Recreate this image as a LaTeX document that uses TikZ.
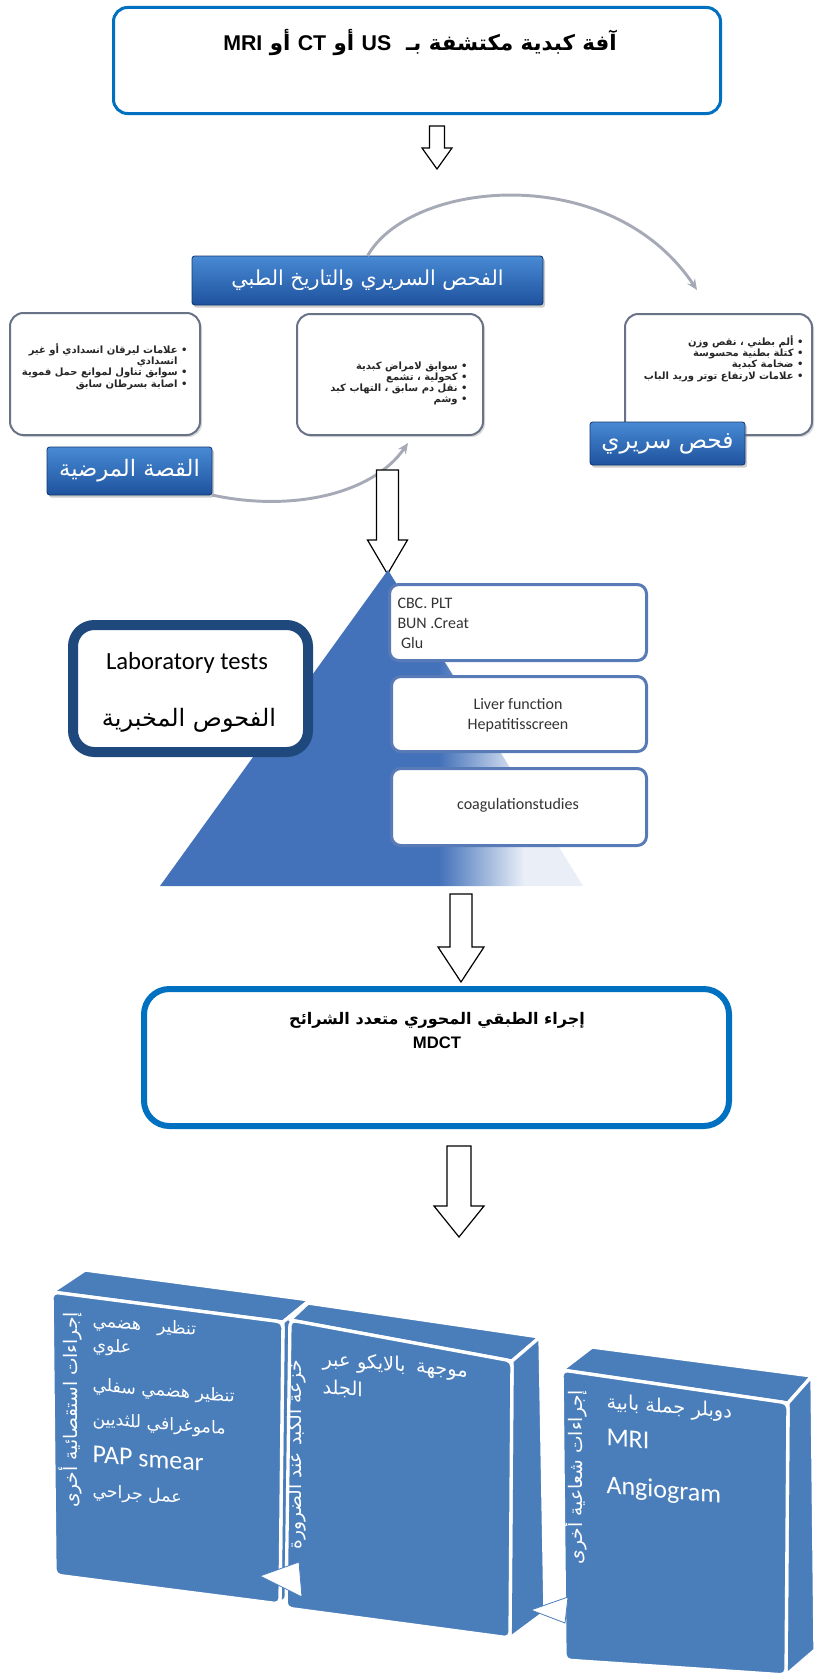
\documentclass[tikz,border=0pt]{standalone}
\usepackage{fontspec}
\setmainfont{Carlito}
\newfontfamily\arabicfont[Script=Arabic]{DejaVu Sans}
\newfontfamily\arialfont{Liberation Sans}
\TeXXeTstate=1
\usetikzlibrary{arrows.meta,shadows}

\definecolor{frameblue}{RGB}{0,112,192}
\definecolor{labnavy}{RGB}{31,73,125}
\definecolor{pyrblue}{RGB}{68,114,186}
\definecolor{cubeblue}{RGB}{74,126,187}
\definecolor{bannertop}{RGB}{72,138,212}
\definecolor{bannerbot}{RGB}{30,82,158}
\definecolor{arcgrey}{RGB}{165,170,182}
\definecolor{cardedge}{RGB}{105,115,135}
\definecolor{testedge}{RGB}{88,122,182}

\pgfdeclarehorizontalshading{pyramidfade}{100bp}{color(0bp)=(pyrblue); color(58bp)=(pyrblue); color(68bp)=(pyrblue!12); color(100bp)=(pyrblue!12)}

\tikzset{every picture/.style={line width=0.75pt}}
\tikzset{
  framebox/.style={draw=frameblue, fill=white, anchor=north west, inner sep=0pt, outer sep=0pt},
  titletext/.style={font=\arabicfont\bfseries\fontsize{16}{18}\selectfont, align=center},
  hollowarrow/.style={draw=black, line width=0.9pt, fill=white},
  card/.style={draw=cardedge, line width=1.5pt, rounded corners=10pt, fill=white, anchor=north west, inner sep=0pt, outer sep=0pt, drop shadow={opacity=0.3, shadow xshift=1.5pt, shadow yshift=-1.5pt}},
  banner/.style={draw=bannerbot!70!black, line width=0.6pt, top color=bannertop, bottom color=bannerbot, rounded corners=2pt, anchor=north west, inner sep=0pt, outer sep=0pt, text=white, drop shadow={opacity=0.4, shadow xshift=1.5pt, shadow yshift=-2pt}},
  bullets/.style={font=\arabicfont\bfseries\fontsize{7.5}{8.4}\selectfont, align=right, anchor=north east, inner sep=0pt, text=black!85},
  cyclearc/.style={draw=arcgrey, line width=2.2pt, -{Stealth[length=8pt,width=7pt]}},
  testbox/.style={draw=testedge, line width=2.25pt, rounded corners=7pt, fill=white, anchor=north west, inner sep=0pt, outer sep=0pt},
  testtext/.style={font=\fontsize{12}{15}\selectfont, text=black!80},
  cubeface/.style={draw=white, line width=2.5pt, fill=cubeblue, line join=round},
  cubetext/.style={text=white, align=left, anchor=north west, inner sep=0pt, yslant=-0.08, font=\arabicfont\fontsize{13}{16}\selectfont},
  sidetext/.style={text=white, font=\arabicfont\fontsize{14}{16}\selectfont, rotate=90, inner sep=0pt},
  flowtip/.style={draw=cubeblue, line width=0.6pt, fill=white},
}

\begin{document}
\begin{tikzpicture}[x=0.75pt,y=0.75pt,yscale=-1,xscale=1]
\useasboundingbox (0,0) rectangle (816,1677);

%Shape: Rounded Rect - lesion found
\node[framebox, line width=2.25pt, rounded corners=10.5pt, minimum width=607*0.75pt, minimum height=106*0.75pt] (lesion) at (113.5,7.5) {};
% Text Node
\node[titletext] (lesiontext) at (420,43) {\beginR آفة كبدية مكتشفة بـ\ \ {\arialfont US} أو {\arialfont CT} أو {\arialfont MRI}\endR};

%Shape: Down Arrow
\draw[hollowarrow] (429.5,126) -- (444.5,126) -- (444.5,148) -- (452,148) -- (437,169) -- (422,148) -- (429.5,148) -- cycle;

%Shape: Cards of the cycle
\node[card, minimum width=190*0.75pt, minimum height=122*0.75pt] (storycard) at (10,313) {};
\node[card, minimum width=186*0.75pt, minimum height=121*0.75pt] (pastcard) at (297,314) {};
\node[card, minimum width=187*0.75pt, minimum height=121*0.75pt] (examcard) at (625,314) {};

% Text Node
\node[bullets] (storylist) at (188,343) {\beginR• علامات ليرقان انسدادي أو غير\endR\\\beginR\phantom{• }انسدادي\endR\\\beginR• سوابق تناول لموانع حمل فموية\endR\\\beginR• اصابة بسرطان سابق\endR};
% Text Node
\node[bullets] (pastlist) at (468,361) {\beginR• سوابق لامراض كبدية\endR\\\beginR• كحولية ، تشمع\endR\\\beginR• نقل دم سابق ، التهاب كبد\endR\\\beginR• وشم\endR};
% Text Node
\node[bullets] (examlist) at (804,335) {\beginR• ألم بطني ، نقص وزن\endR\\\beginR• كتلة بطنية محسوسة\endR\\\beginR• ضخامة كبدية\endR\\\beginR• علامات لارتفاع توتر وريد الباب\endR};

%Shape: Banners
\node[banner, minimum width=351*0.75pt, minimum height=49*0.75pt, font=\arabicfont\fontsize{15.5}{17}\selectfont] (histbanner) at (192,256) {\beginR الفحص السريري والتاريخ الطبي\endR};
\node[banner, minimum width=165*0.75pt, minimum height=48*0.75pt, font=\arabicfont\fontsize{17}{19}\selectfont] (storybanner) at (47,447) {\beginR القصة المرضية\endR};
\node[banner, minimum width=155*0.75pt, minimum height=43*0.75pt, font=\arabicfont\fontsize{17.5}{19}\selectfont] (exambanner) at (590,422) {\beginR فحص سريري\endR};

%Curve Lines
\coordinate (examin) at (697,290);
\coordinate (pastin) at (408,443);
\draw[cyclearc] (histbanner.north) .. controls (410,180) and (610,160) .. (examin);
\draw[cyclearc] (storybanner.south east) .. controls (290,512) and (372,495) .. (pastin);

%Shape: Down Arrow
\draw[hollowarrow] (376.5,470) -- (398.5,470) -- (398.5,540) -- (407.5,540) -- (387.5,574) -- (367.5,540) -- (376.5,540) -- cycle;

%Shape: Triangle
\shade[shading=pyramidfade] (388,570) -- (583,886) -- (160,886) -- cycle;

%Shape: Test boxes
\node[testbox, minimum width=257*0.75pt, minimum height=76*0.75pt] (bloodbox) at (389.5,584.5) {};
\node[testbox, minimum width=255*0.75pt, minimum height=75*0.75pt] (liverbox) at (391.5,676.5) {};
\node[testbox, minimum width=255*0.75pt, minimum height=77*0.75pt] (coagbox) at (391.5,768.5) {};
% Text Node
\node[testtext, align=left, anchor=north west, inner sep=0pt] (bloodtext) at (397,598) {CBC. PLT\\BUN .Creat\\\ Glu};
% Text Node
\node[testtext, align=center] (livertext) at (518,715) {Liver function\\Hepatitisscreen};
% Text Node
\node[testtext] (coagtext) at (518,805) {coagulationstudies};

%Shape: Lab box
\node[framebox, draw=labnavy, line width=7.5pt, rounded corners=16pt, minimum width=235*0.75pt, minimum height=127*0.75pt] (labbox) at (73,625) {};
% Text Node
\node[font=\fontsize{18.5}{22}\selectfont] (labtitle) at (187,663) {Laboratory tests};
% Text Node
\node[font=\arabicfont\fontsize{18}{22}\selectfont] (labarabic) at (189,720) {\beginR الفحوص المخبرية\endR};

%Shape: Down Arrow
\draw[hollowarrow] (450,894) -- (472,894) -- (472,947) -- (484,947) -- (461,982) -- (438,947) -- (450,947) -- cycle;

%Shape: Rounded Rect - MDCT
\node[framebox, line width=4.5pt, rounded corners=19pt, minimum width=585*0.75pt, minimum height=137*0.75pt] (mdct) at (144,989) {};
% Text Node
\node[titletext, font=\arabicfont\bfseries\fontsize{12}{18}\selectfont] (mdcttext) at (437,1030) {\beginR إجراء الطبقي المحوري متعدد الشرائح\endR\\{\arialfont\fontsize{12.5}{18}\selectfont MDCT}};

%Shape: Down Arrow
\draw[hollowarrow] (447,1146) -- (471,1146) -- (471,1206) -- (484,1206) -- (459,1237) -- (434,1206) -- (447,1206) -- cycle;

%Shape: Cube 1
\draw[cubeface] (52,1292) -- (85,1270) -- (310,1300) -- (283,1322) -- cycle;
\draw[cubeface] (283,1322) -- (310,1300) -- (306,1580) -- (280,1604) -- cycle;
\draw[cubeface, rounded corners=4pt] (52,1292) -- (283,1322) -- (280,1604) -- (55,1575) -- cycle;
%Shape: Cube 2
\draw[cubeface] (290,1320) -- (308,1303) -- (540,1337) -- (512,1361) -- cycle;
\draw[cubeface] (512,1361) -- (540,1337) -- (545,1612) -- (510,1638) -- cycle;
\draw[cubeface, rounded corners=4pt] (290,1320) -- (512,1361) -- (510,1638) -- (286,1608) -- cycle;
%Shape: Cube 3
\draw[cubeface] (562,1370) -- (592,1347) -- (812,1376) -- (788,1403) -- cycle;
\draw[cubeface] (788,1403) -- (812,1376) -- (815,1650) -- (786,1675) -- cycle;
\draw[cubeface, rounded corners=4pt] (562,1370) -- (788,1403) -- (786,1675) -- (565,1660) -- cycle;

%Shape: Triangles between cubes
\draw[flowtip] (299,1562) -- (302,1597) -- (260,1576) -- cycle;
\draw[flowtip] (568,1597) -- (565,1623) -- (531,1610) -- cycle;

% Text Node
\node[sidetext] (invside) at (70,1410) {\beginR إجراءات استقصائية أخرى\endR};
% Text Node
\node[sidetext] (biopside) at (297,1455) {\beginR خزعة الكبد عند الضرورة\endR};
% Text Node
\node[sidetext] (radside) at (575,1477) {\beginR إجراءات شعاعية أخرى\endR};

% Text Node
\node[cubetext] (invlist) at (92,1313) {\beginR تنظير\hspace{12pt}هضمي\endR\\[2pt]\beginR علوي\endR\\[14pt]\beginR تنظير هضمي سفلي\endR\\[9pt]\beginR ماموغرافي للثديين\endR\\[13pt]{\rmfamily\fontsize{19.5}{20}\selectfont PAP smear}\\[9pt]\beginR عمل جراحي\endR};
% Text Node
\node[cubetext, font=\arabicfont\fontsize{14.5}{16}\selectfont] (guidelist) at (322,1350) {\beginR موجهة\hspace{8pt}بالايكو\hspace{5pt}عبر\endR\\[5pt]\beginR الجلد\endR};
% Text Node
\node[cubetext, font=\arabicfont\fontsize{14.5}{16}\selectfont] (radlist) at (606,1393) {\beginR دوبلر جملة بابية\endR\\[11pt]{\rmfamily\fontsize{19.5}{20}\selectfont MRI}\\[20pt]{\rmfamily\fontsize{19.5}{20}\selectfont Angiogram}};

\end{tikzpicture}
\end{document}
